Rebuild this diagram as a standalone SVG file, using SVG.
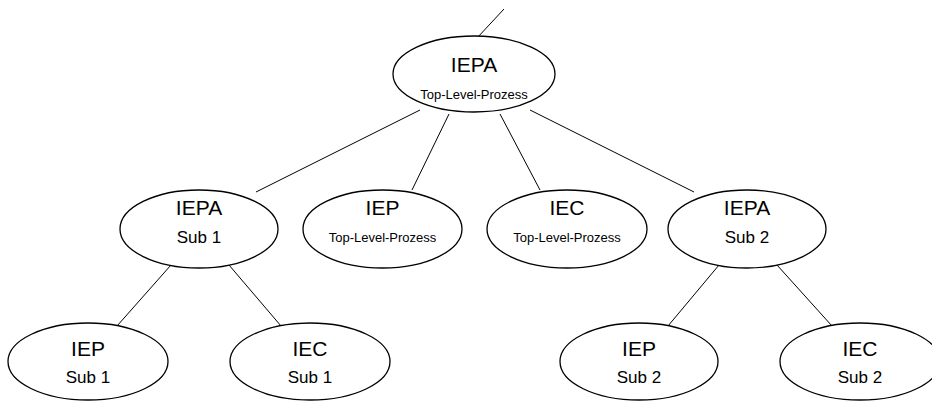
<svg xmlns="http://www.w3.org/2000/svg" width="932" height="402" viewBox="0 0 932 402">
<style>
.n ellipse{fill:#fff;stroke:#000;stroke-width:1.3}
.t{font-family:"Liberation Sans",Arial,sans-serif;text-anchor:middle;fill:#000}
.b{font-size:21px}
.s{font-size:13px}
.m{font-size:17px}
#edges line{stroke:#000;stroke-width:1}
</style>
<rect width="932" height="402" fill="#fff"/>
<g id="edges">
<line x1="477" y1="38" x2="504" y2="9"/>
<line x1="420" y1="110" x2="256" y2="192"/>
<line x1="449" y1="114" x2="412" y2="190"/>
<line x1="500" y1="114" x2="540" y2="190"/>
<line x1="530" y1="110" x2="694" y2="192"/>
<line x1="171" y1="265" x2="117" y2="326"/>
<line x1="229" y1="265" x2="281" y2="326"/>
<line x1="719" y1="265" x2="668" y2="326"/>
<line x1="777" y1="265" x2="832" y2="326"/>
</g>
<g id="n_top" class="n"><ellipse cx="474" cy="74" rx="81" ry="38"/><text class="t b" x="474" y="72">IEPA</text><text class="t s" x="474" y="99">Top-Level-Prozess</text></g>
<g id="n_iepa1" class="n"><ellipse cx="199" cy="229" rx="79" ry="39"/><text class="t b" x="199" y="215">IEPA</text><text class="t m" x="199" y="243">Sub 1</text></g>
<g id="n_iep_top" class="n"><ellipse cx="382.5" cy="229" rx="79.5" ry="39"/><text class="t b" x="382.5" y="215">IEP</text><text class="t s" x="382.5" y="242">Top-Level-Prozess</text></g>
<g id="n_iec_top" class="n"><ellipse cx="567" cy="229" rx="80" ry="39"/><text class="t b" x="567" y="215">IEC</text><text class="t s" x="567" y="242">Top-Level-Prozess</text></g>
<g id="n_iepa2" class="n"><ellipse cx="747" cy="229" rx="79" ry="39"/><text class="t b" x="747" y="215">IEPA</text><text class="t m" x="747" y="243">Sub 2</text></g>
<g id="n_iep1" class="n"><ellipse cx="88" cy="361.5" rx="80" ry="38.5"/><text class="t b" x="88" y="356">IEP</text><text class="t m" x="88" y="383">Sub 1</text></g>
<g id="n_iec1" class="n"><ellipse cx="310" cy="361.5" rx="80" ry="38.5"/><text class="t b" x="310" y="356">IEC</text><text class="t m" x="310" y="383">Sub 1</text></g>
<g id="n_iep2" class="n"><ellipse cx="639" cy="361.5" rx="79" ry="38.5"/><text class="t b" x="639" y="356">IEP</text><text class="t m" x="639" y="383">Sub 2</text></g>
<g id="n_iec2" class="n"><ellipse cx="860" cy="361.5" rx="80" ry="38.5"/><text class="t b" x="860" y="356">IEC</text><text class="t m" x="860" y="383">Sub 2</text></g>
</svg>
